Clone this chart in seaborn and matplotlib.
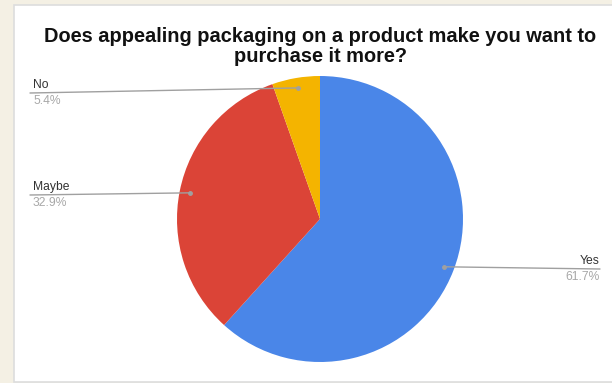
import numpy as np
import matplotlib
matplotlib.use("Agg")
import matplotlib.pyplot as plt
import seaborn as sns

# datos
categorias = ["Yes", "Maybe", "No"]
porcentajes = [61.7, 32.9, 5.4]
colores = ["#4a86e8", "#db4437", "#f4b400"]
titulo = ["Does appealing packaging on a product make you want to",
          "purchase it more?"]

sns.set_theme(style="white")
plt.rcParams['font.family'] = ['Liberation Sans', 'DejaVu Sans']

W, H = 612, 383
fig = plt.figure(figsize=(W / 100, H / 100), dpi=100, facecolor="#f4f0e4")
ax = fig.add_axes([0, 0, 1, 1])

# panel blanco
ax.add_patch(plt.Rectangle((14, 1), W, H - 6, facecolor="white",
                           edgecolor="#dddddd", linewidth=1.2, zorder=0))

cx, cy, r = 320, H - 219, 143
wedges, _ = ax.pie(porcentajes, colors=colores, startangle=90, counterclock=False,
                   center=(cx, cy), radius=r, frame=True,
                   wedgeprops=dict(linewidth=0))
ax.set_xlim(0, W)
ax.set_ylim(0, H)
ax.set_aspect("equal")
ax.axis("off")

ax.text(320, H - 37, titulo[0], ha="center", va="center",
        fontsize=14.4, fontweight="bold", color="#111111")
ax.text(320, H - 57, titulo[1], ha="center", va="center",
        fontsize=14.4, fontweight="bold", color="#111111")

# etiquetas con lineas guia
linea_y = {"Yes": 269, "Maybe": 195, "No": 93}
for w, cat, pct in zip(wedges, categorias, porcentajes):
    ang = np.deg2rad((w.theta1 + w.theta2) / 2)
    px = cx + 0.93 * r * np.cos(ang)
    py = cy + 0.93 * r * np.sin(ang)
    ly = H - linea_y[cat]
    if px > cx:
        ax.plot([px, 600], [py, ly], color="#a0a0a0", lw=1, zorder=3)
        ax.text(600, ly + 2, cat, ha="right", va="bottom", fontsize=8.7, color="#333333")
        ax.text(600, ly - 2, f"{pct}%", ha="right", va="top", fontsize=8.7, color="#a8a8a8")
    else:
        ax.plot([30, px], [ly, py], color="#a0a0a0", lw=1, zorder=3)
        ax.text(33, ly + 2, cat, ha="left", va="bottom", fontsize=8.7, color="#333333")
        ax.text(33, ly - 2, f"{pct}%", ha="left", va="top", fontsize=8.7, color="#a8a8a8")
    ax.plot(px, py, "o", ms=2.5, color="#a0a0a0", zorder=4)

fig.savefig("out.png", dpi=100, facecolor=fig.get_facecolor())
